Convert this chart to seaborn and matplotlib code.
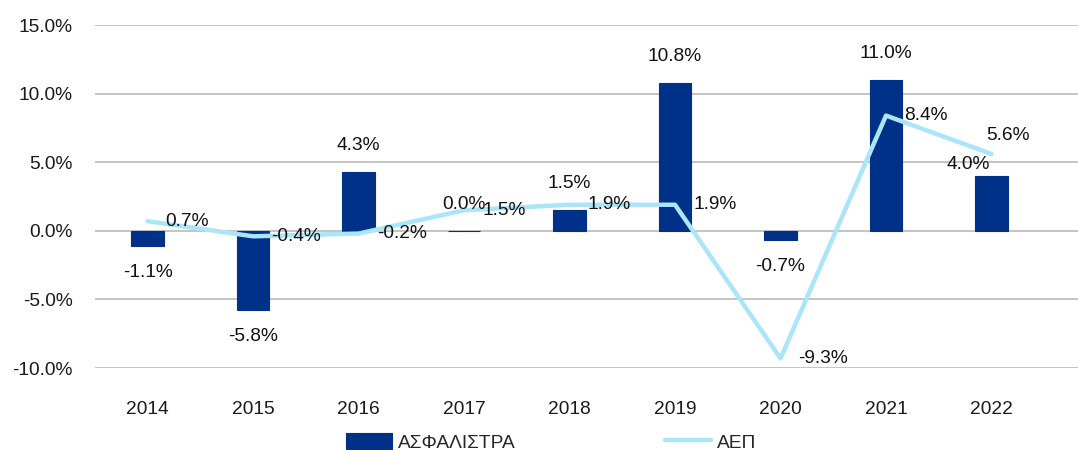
import matplotlib
matplotlib.use("Agg")
import matplotlib.pyplot as plt
import seaborn as sns
import pandas as pd

years = ["2014", "2015", "2016", "2017", "2018", "2019", "2020", "2021", "2022"]
premiums = [-1.1, -5.8, 4.3, 0.0, 1.5, 10.8, -0.7, 11.0, 4.0]   # ΑΣΦΑΛΙΣΤΡΑ
gdp = [0.7, -0.4, -0.2, 1.5, 1.9, 1.9, -9.3, 8.4, 5.6]           # ΑΕΠ
yticks = [-10, -5, 0, 5, 10, 15]

sns.set_theme(style="white")
plt.rcParams['font.family'] = ['Liberation Sans', 'DejaVu Sans']

BAR = "#003189"
LINE = "#AAE5FA"

fig = plt.figure(figsize=(10.78, 4.5), dpi=100)
ax = fig.add_axes([0.088, 0.1822, 0.912, 0.7622])

df = pd.DataFrame({"year": years, "prem": premiums, "gdp": gdp, "pos": range(len(years))})
sns.barplot(data=df, x="year", y="prem", color=BAR, width=0.31, saturation=1,
            ax=ax, zorder=3, label="ΑΣΦΑΛΙΣΤΡΑ", edgecolor=BAR, linewidth=0.8)
sns.lineplot(data=df, x="pos", y="gdp", color=LINE, linewidth=3.2, ax=ax,
             zorder=4, label="ΑΕΠ", sort=False)

ax.set_xlim(-0.5, 8.82)
ax.set_ylim(-10, 15)
ax.set_yticks(yticks)
ax.set_yticklabels([f"{t:.1f}%" for t in yticks])
ax.set_xticks(range(len(years)))
ax.set_xticklabels(years)
ax.set_xlabel("")
ax.set_ylabel("")
ax.grid(axis="y", color="#BFBFBF", linewidth=1.3, zorder=0)
ax.grid(axis="x", visible=False)
for s in ax.spines.values():
    s.set_visible(False)
fs = 13.8
ax.tick_params(axis="y", length=0, pad=16, labelsize=fs, colors="#1a1a1a")
ax.tick_params(axis="x", length=0, pad=24, labelsize=fs, colors="#1a1a1a")

# bar labels
for i, v in enumerate(premiums):
    dx, dy = 0, (19 if v >= 0 else -19)
    if i == len(premiums) - 1:
        dx, dy = -17, 8
    ax.annotate(f"{v:.1f}%", (i, v), xytext=(dx, dy), textcoords="offset points",
                ha="center", va="center", fontsize=fs, color="#111111", zorder=6)
# line labels
for i, v in enumerate(gdp):
    dx, dy, ha = 13, 0, "left"
    if i == len(gdp) - 1:
        dx, dy, ha = -4, 13, "left"
    ax.annotate(f"{v:.1f}%", (i, v), xytext=(dx, dy), textcoords="offset points",
                ha=ha, va="center", fontsize=fs, color="#111111", zorder=6)

handles, labels = ax.get_legend_handles_labels()
order = [labels.index("ΑΣΦΑΛΙΣΤΡΑ"), labels.index("ΑΕΠ")]
handles = [handles[k] for k in order]
labels = [labels[k] for k in order]
if ax.get_legend() is not None:
    ax.get_legend().remove()
fig.legend(handles, labels, loc="center", bbox_to_anchor=(0.511, 0.017),
           ncol=2, frameon=False, fontsize=fs, handlelength=2.4,
           handletextpad=0.3, columnspacing=7.8, handleheight=0.9)

fig.savefig("out.png", dpi=100)
